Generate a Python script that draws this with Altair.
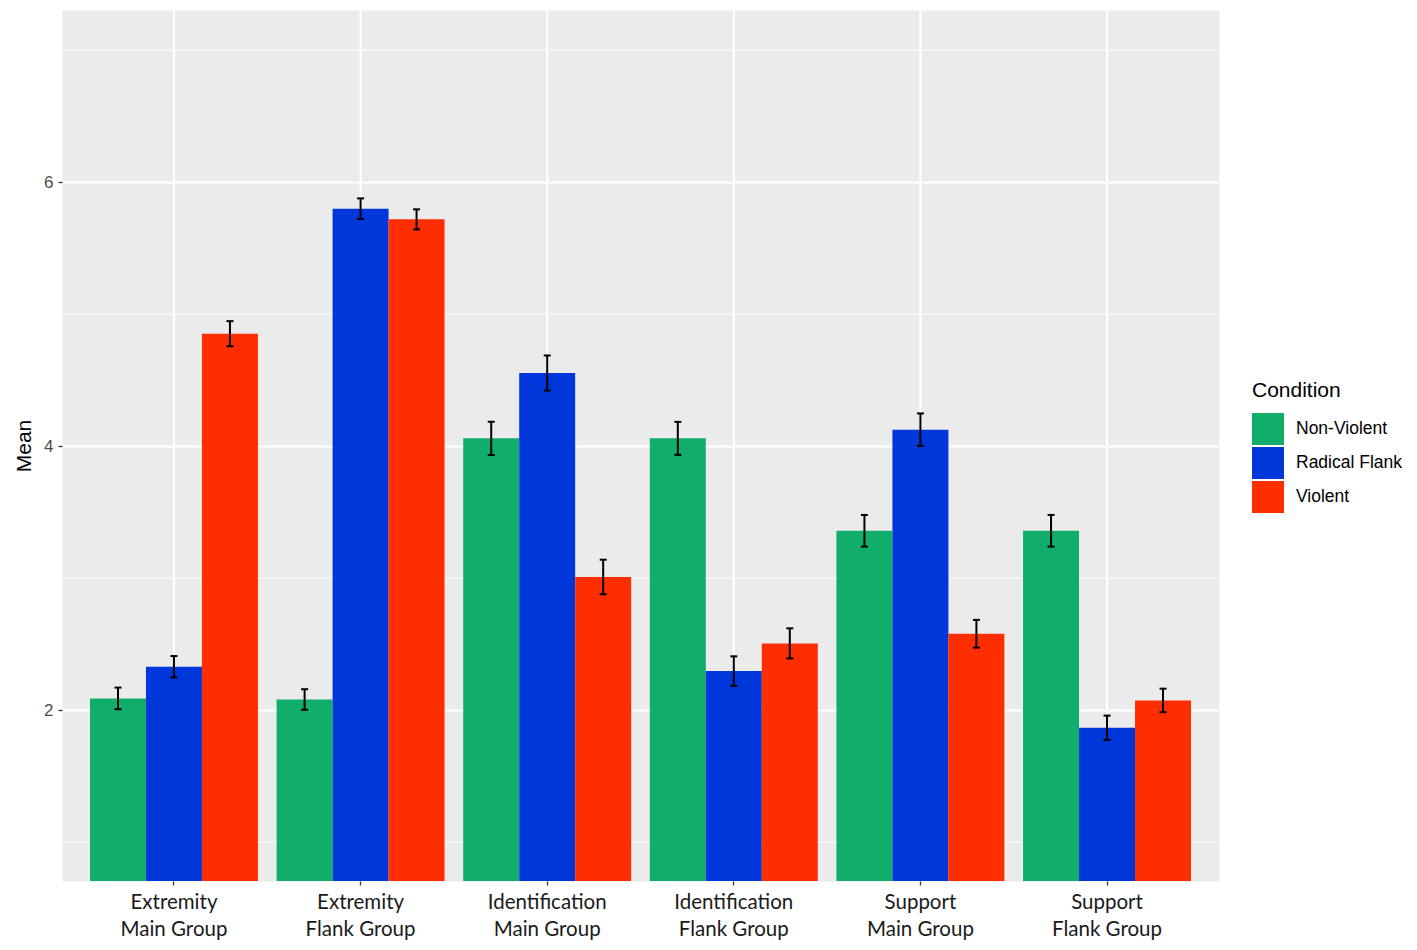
import altair as alt
import pandas as pd

outcomes = ["Extremity\nMain Group", "Extremity\nFlank Group", "Identification\nMain Group",
            "Identification\nFlank Group", "Support\nMain Group", "Support\nFlank Group"]
conditions = ["Non-Violent", "Radical Flank", "Violent"]
colors = ["#10AE6A", "#0037DB", "#FF2E00"]

nv_mean = [2.088, 2.080, 4.058, 4.058, 3.358, 3.358]
rf_mean = [2.328, 5.798, 4.553, 2.295, 4.124, 1.866]
v_mean = [4.851, 5.717, 3.008, 2.505, 2.578, 2.073]
nv_se = [0.082, 0.078, 0.126, 0.125, 0.120, 0.120]
rf_se = [0.081, 0.078, 0.133, 0.112, 0.123, 0.092]
v_se = [0.095, 0.076, 0.131, 0.114, 0.105, 0.089]

minor_grid = [1, 3, 5, 7]
major_ticks = [2, 4, 6]

rows = []
for cond, means, ses in zip(conditions, [nv_mean, rf_mean, v_mean], [nv_se, rf_se, v_se]):
    for o, m, s in zip(outcomes, means, ses):
        rows.append({"Outcome": o, "Condition": cond, "Mean": m, "lo": m - s, "hi": m + s})
df = pd.DataFrame(rows)

ydom = [0.705, 7.303]

x_enc = alt.X("Outcome:N", sort=outcomes, title=None,
              scale=alt.Scale(paddingInner=0.1, paddingOuter=0.15),
              axis=alt.Axis(labelExpr="split(datum.label, '\\n')", labelAngle=0, labelAlign="center",
                            labelBaseline="top",
                            labelFont="Lato", labelFontSize=20.5, labelColor="#1a1a1a",
                            labelLineHeight=27, labelPadding=7, tickSize=4, tickColor="#333333",
                            tickWidth=1.3, domain=False, grid=False))
xo_enc = alt.XOffset("Condition:N", sort=conditions, scale=alt.Scale(paddingInner=0, paddingOuter=0))

minor = alt.Chart(pd.DataFrame({"v": minor_grid})).mark_rule(color="white", strokeWidth=1.1).encode(
    y=alt.Y("v:Q", scale=alt.Scale(domain=ydom, nice=False, zero=False))
)

vgrid = alt.Chart(pd.DataFrame({"Outcome": outcomes})).mark_rule(color="white", strokeWidth=2.2).encode(
    x=alt.X("Outcome:N", sort=outcomes)
)

bars = alt.Chart(df).mark_bar(clip=True).encode(
    x=x_enc,
    xOffset=xo_enc,
    y=alt.Y("Mean:Q", title="Mean",
            scale=alt.Scale(domain=ydom, nice=False, zero=False),
            axis=alt.Axis(values=major_ticks, format="d", grid=True, gridColor="white", gridWidth=2.2,
                          labelFont="Liberation Sans", labelFontSize=17, labelColor="#4D4D4D",
                          labelPadding=5, tickSize=4, tickColor="#333333", tickWidth=1.3,
                          domain=False, titleFont="Liberation Sans", titleFontSize=21,
                          titleFontWeight="normal", titleColor="black", titlePadding=9)),
    color=alt.Color("Condition:N", sort=conditions,
                    scale=alt.Scale(domain=conditions, range=colors),
                    legend=alt.Legend(title="Condition", orient="none", legendX=1190, legendY=370,
                                      symbolType="square", symbolSize=1024, symbolStrokeWidth=0,
                                      symbolOpacity=1, titleFont="Liberation Sans", titleFontSize=21,
                                      titleFontWeight="normal", titleColor="black", titlePadding=12,
                                      labelFont="Liberation Sans", labelFontSize=17.5, labelColor="black",
                                      labelOffset=12, rowPadding=2)),
)

err = alt.Chart(df).mark_rule(color="black", strokeWidth=2).encode(
    x=alt.X("Outcome:N", sort=outcomes),
    xOffset=alt.XOffset("Condition:N", sort=conditions),
    y="lo:Q",
    y2="hi:Q",
)

caps_lo = alt.Chart(df).mark_tick(color="black", size=7, thickness=2, opacity=1).encode(
    x=alt.X("Outcome:N", sort=outcomes),
    xOffset=alt.XOffset("Condition:N", sort=conditions),
    y="lo:Q",
)
caps_hi = alt.Chart(df).mark_tick(color="black", size=7, thickness=2, opacity=1).encode(
    x=alt.X("Outcome:N", sort=outcomes),
    xOffset=alt.XOffset("Condition:N", sort=conditions),
    y="hi:Q",
)

chart = alt.layer(minor, vgrid, bars, err, caps_lo, caps_hi).properties(
    width=1157, height=871,
    background="white",
    autosize=alt.AutoSizeParams(type="none"),
    padding={"left": 54, "top": 2, "right": 190, "bottom": 61},
).configure_view(fill="#EBEBEB", stroke="transparent")

chart.save("out.html", embed_options={"renderer": "svg", "actions": False})
